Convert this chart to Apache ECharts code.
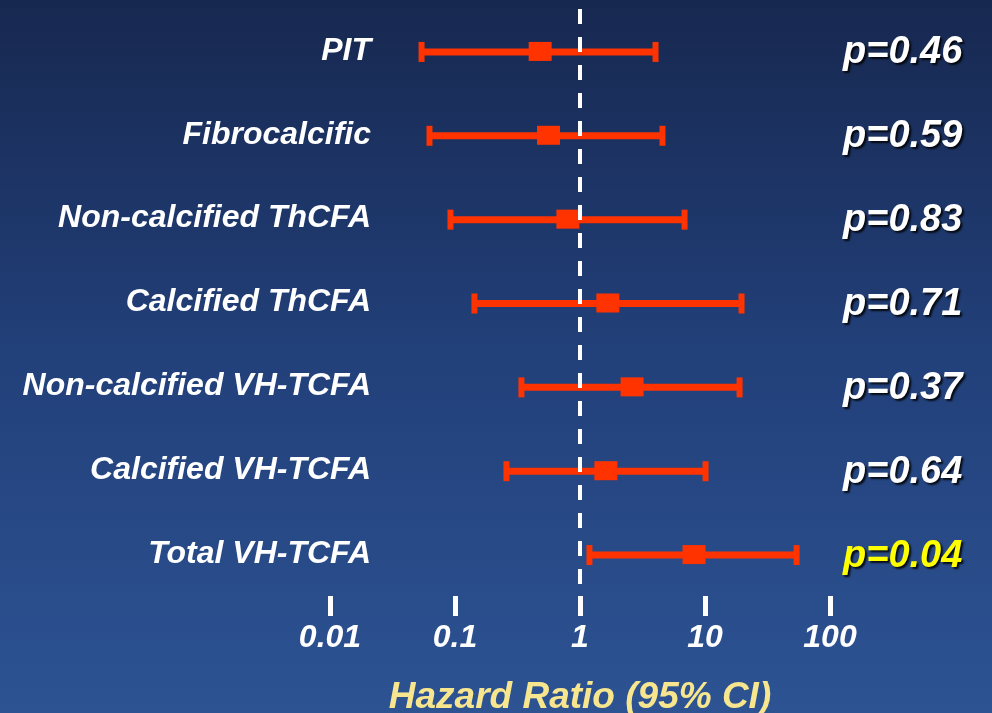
<!DOCTYPE html>
<html><head><meta charset="utf-8">
<script src="https://cdn.jsdelivr.net/npm/echarts@6/dist/echarts.min.js"></script>
<style>html,body{margin:0;padding:0;background:#1f3a70;}#c{width:992px;height:713px;}</style>
</head><body><div id="c"></div>
<script>
const categories = ['PIT', 'Fibrocalcific', 'Non-calcified ThCFA', 'Calcified ThCFA', 'Non-calcified VH-TCFA', 'Calcified VH-TCFA', 'Total VH-TCFA'];
const hrEstimate = [0.48, 0.56, 0.80, 1.67, 2.61, 1.61, 8.17];
const ciLower = [0.054, 0.0625, 0.092, 0.143, 0.34, 0.258, 1.19];
const ciUpper = [4.02, 4.57, 6.86, 19.6, 18.9, 10.1, 54.0];
const pValues = ['p=0.46', 'p=0.59', 'p=0.83', 'p=0.71', 'p=0.37', 'p=0.64', 'p=0.04'];
const pHighlight = [false, false, false, false, false, false, true];
const xTickValues = [0.01, 0.1, 1, 10, 100];
const xTickLabels = ['0.01', '0.1', '1', '10', '100'];
const referenceHR = 1;

const seriesData = categories.map((c, i) => [i, ciLower[i], hrEstimate[i], ciUpper[i]]);
const RED = '#ff3300';
const FONT = '"Liberation Sans", Arial, sans-serif';

function renderItem(params, api) {
  const idx = api.value(0);
  const pL = api.coord([api.value(1), idx]);
  const pE = api.coord([api.value(2), idx]);
  const pU = api.coord([api.value(3), idx]);
  const y = pE[1];
  return {
    type: 'group',
    children: [
      { type: 'line', shape: { x1: pL[0], y1: y + 1, x2: pU[0], y2: y + 1 }, style: { stroke: RED, lineWidth: 7 } },
      { type: 'rect', shape: { x: pL[0] - 3, y: y - 9, width: 6, height: 20 }, style: { fill: RED } },
      { type: 'rect', shape: { x: pU[0] - 3, y: y - 9, width: 6, height: 20 }, style: { fill: RED } },
      { type: 'rect', shape: { x: pE[0] - 11.5, y: y - 9, width: 23, height: 19 }, style: { fill: RED } }
    ]
  };
}

const pStyle = (color) => ({
  color: color, fontSize: 38, fontStyle: 'italic', fontWeight: 'bold', fontFamily: FONT,
  padding: [4, 0, 0, 0],
  textShadowColor: 'rgba(0,0,0,0.85)', textShadowOffsetX: 2, textShadowOffsetY: 2, textShadowBlur: 2
});

const chart = echarts.init(document.getElementById('c'), null, { renderer: 'canvas' });
chart.setOption({
  backgroundColor: {
    type: 'linear', x: 0, y: 0, x2: 0, y2: 1,
    colorStops: [
      { offset: 0, color: '#172850' },
      { offset: 0.5, color: '#22407a' },
      { offset: 1, color: '#2d5393' }
    ]
  },
  animation: false,
  grid: { left: 330, right: 162, top: 9, bottom: 117, containLabel: false, outerBoundsMode: 'none' },
  xAxis: {
    type: 'log', logBase: 10, min: 0.01, max: 100, interval: 1,
    axisLine: { show: false },
    splitLine: { show: false },
    minorTick: { show: false },
    axisTick: { show: true, length: 20, lineStyle: { color: '#ffffff', width: 5 } },
    axisLabel: {
      color: '#ffffff', fontSize: 32, fontStyle: 'italic', fontWeight: 'bold', fontFamily: FONT, margin: 26,
      formatter: function (v) {
        for (let i = 0; i < xTickValues.length; i++) {
          if (Math.abs(Math.log10(v) - Math.log10(xTickValues[i])) < 1e-6) return xTickLabels[i];
        }
        return '';
      }
    },
    name: 'Hazard Ratio (95% CI)',
    nameLocation: 'middle', nameGap: 83,
    nameTextStyle: { color: '#f8e68e', fontSize: 37, fontStyle: 'italic', fontWeight: 'bold', fontFamily: FONT }
  },
  yAxis: [
    {
      type: 'category', inverse: true, data: categories,
      axisLine: { show: false }, axisTick: { show: false }, splitLine: { show: false },
      axisLabel: { color: '#ffffff', fontSize: 32, fontStyle: 'italic', fontWeight: 'bold', fontFamily: FONT, margin: -41 }
    },
    {
      type: 'category', inverse: true, data: pValues, position: 'right',
      axisLine: { show: false }, axisTick: { show: false }, splitLine: { show: false },
      axisLabel: {
        margin: 13,
        formatter: function (v, i) { return pHighlight[i] ? '{hi|' + v + '}' : '{n|' + v + '}'; },
        rich: { n: pStyle('#ffffff'), hi: pStyle('#ffff00') }
      }
    }
  ],
  series: [
    {
      type: 'custom', name: 'HR', renderItem: renderItem, data: seriesData,
      encode: { y: 0, x: [1, 2, 3] }, yAxisIndex: 0, z: 3
    },
    {
      type: 'scatter', data: [], yAxisIndex: 0, z: 2,
      markLine: {
        silent: true, symbol: ['none', 'none'], label: { show: false },
        lineStyle: { color: '#ffffff', width: 4, type: [15, 13], opacity: 1 },
        data: [{ xAxis: referenceHR }]
      }
    }
  ]
});
</script>
</body></html>
